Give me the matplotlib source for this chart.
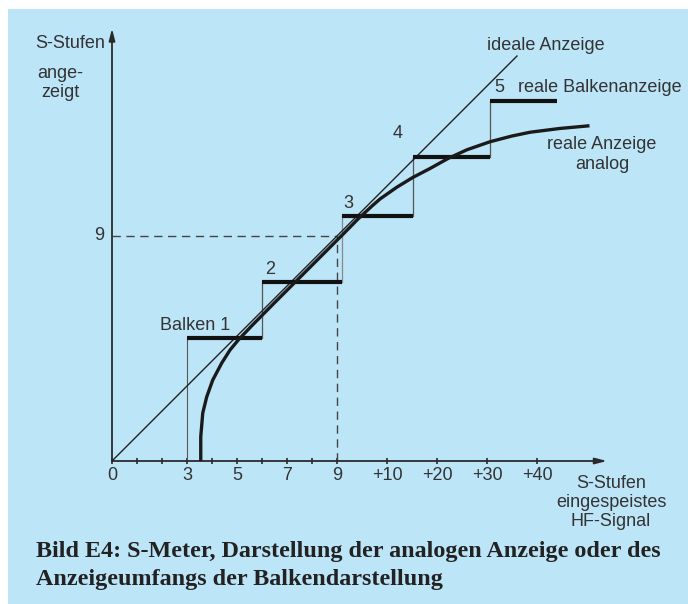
import matplotlib
matplotlib.use("Agg")
import matplotlib.pyplot as plt
from matplotlib.patches import Rectangle

# ---------------- data (S-units; above S9 one step = 10 dB = 2 units) -------------
x_tick_pos = [0, 1, 2, 3, 4, 5, 6, 7, 8, 9, 11, 13, 15, 17]
x_label_pos = [0, 3, 5, 7, 9, 11, 13, 15, 17]
x_labels = ["0", "3", "5", "7", "9", "+10", "+20", "+30", "+40"]

ideal_x = [0, 16.2]
ideal_y = [0, 16.2]

bar_left = [3, 6, 9.2, 12.03, 15.1]
bar_right = [6, 9.2, 12.03, 15.1, 17.8]
bar_level = [4.92, 7.16, 9.8, 12.16, 14.4]
bar_labels = ["Balken 1", "2", "3", "4", "5"]

analog_x = [3.55, 3.55, 3.63, 3.79, 4.03, 4.39, 4.72, 5.05, 5.6, 6.5, 7.5, 8.5,
            9.3, 9.84, 10.4, 10.72, 11.39, 12.03, 12.72, 13.44, 14.2, 15.12,
            16.0, 16.72, 17.9, 19.1]
analog_y = [0.0, 0.97, 1.92, 2.57, 3.24, 3.92, 4.44, 4.84, 5.42, 6.33, 7.33, 8.33,
            9.13, 9.68, 10.2, 10.48, 10.95, 11.34, 11.7, 12.1, 12.45, 12.77,
            13.0, 13.15, 13.3, 13.41]

ref_level = 9

# ---------------- figure ----------------
W, H = 688, 604
fig = plt.figure(figsize=(W / 100, H / 100), dpi=100)
fig.patch.set_facecolor("white")
bg = "#bde5f8"
fig.patches.append(Rectangle((8 / W, 0), 1 - 8 / W, (H - 9) / H,
                             transform=fig.transFigure, facecolor=bg,
                             edgecolor="none", zorder=-5))

ax = fig.add_axes([0, 0, 1, 1])
ax.set_zorder(2)
ax.set_facecolor("none")
ox, oy, s = 112, 461, 25.0
ax.set_xlim(-ox / s, (W - ox) / s)
ax.set_ylim(-(H - oy) / s, oy / s)
ax.axis("off")

axc = "#2a2a2a"
txtc = "#333333"
fs = 13
fam = ["Liberation Sans", "DejaVu Sans"]

# axes with arrows
ax.annotate("", xy=(19.8, 0), xytext=(0, 0),
            arrowprops=dict(arrowstyle="-|>,head_length=0.7,head_width=0.18",
                            color=axc, lw=1.3, shrinkA=0, shrinkB=0))
ax.annotate("", xy=(0, 17.3), xytext=(0, 0),
            arrowprops=dict(arrowstyle="-|>,head_length=0.7,head_width=0.18",
                            color=axc, lw=1.3, shrinkA=0, shrinkB=0))

# ticks
for xt in x_tick_pos:
    ax.plot([xt, xt], [-0.12, 0.12], color=axc, lw=1.2, solid_capstyle="butt")
for xp, lab in zip(x_label_pos, x_labels):
    ax.text(xp, -0.25, lab, ha="center", va="top", fontsize=fs, color=txtc,
            family=fam)

# dashed reference lines at S9
ax.plot([0, ref_level], [ref_level, ref_level], color="#444444", lw=1.0,
        dashes=(6, 4))
ax.plot([ref_level, ref_level], [0, ref_level], color="#444444", lw=1.0,
        dashes=(6, 4))
ax.text(-0.3, ref_level, "9", ha="right", va="center", fontsize=fs,
        color=txtc, family=fam)

# ideal line
ax.plot(ideal_x, ideal_y, color="#222222", lw=1.0, zorder=3)

# bars with thin connectors
ax.plot([bar_left[0], bar_left[0]], [0, bar_level[0]], color="#555555", lw=0.8)
for i in range(len(bar_level) - 1):
    c = "#888888" if i == 1 else "#555555"
    ax.plot([bar_right[i], bar_right[i]], [bar_level[i], bar_level[i + 1]],
            color=c, lw=0.9)
for l, r, y in zip(bar_left, bar_right, bar_level):
    ax.plot([l, r], [y, y], color="#111111", lw=3.0, solid_capstyle="butt",
            zorder=4)

# analog curve
ax.plot(analog_x, analog_y, color="#1a1a1a", lw=2.4, zorder=5,
        solid_capstyle="butt", solid_joinstyle="round")

# bar labels
ax.text(3.32, 5.4, bar_labels[0], ha="center", va="center", fontsize=fs,
        color=txtc, family=fam)
ax.text(6.32, 7.64, bar_labels[1], ha="center", va="center", fontsize=fs,
        color=txtc, family=fam)
ax.text(9.44, 10.28, bar_labels[2], ha="center", va="center", fontsize=fs,
        color=txtc, family=fam)
ax.text(11.44, 13.12, bar_labels[3], ha="center", va="center", fontsize=fs,
        color=txtc, family=fam)
ax.text(15.48, 14.92, bar_labels[4], ha="center", va="center", fontsize=fs,
        color=txtc, family=fam)

# annotations
ax.text(17.36, 16.64, "ideale Anzeige", ha="center", va="center", fontsize=fs,
        color=txtc, family=fam)
ax.text(19.52, 14.92, "reale Balkenanzeige", ha="center", va="center",
        fontsize=fs, color=txtc, family=fam)
ax.text(19.6, 12.25, "reale Anzeige\nanalog", ha="center", va="center",
        fontsize=fs, color=txtc, family=fam, linespacing=1.2)
ax.text(-0.28, 16.68, "S-Stufen", ha="right", va="center", fontsize=fs,
        color=txtc, family=fam)
ax.text(-2.08, 15.12, "ange-\nzeigt", ha="center", va="center", fontsize=fs,
        color=txtc, family=fam, linespacing=1.2)
ax.text(19.96, -1.66, "S-Stufen\neingespeistes\nHF-Signal", ha="center",
        va="center", fontsize=fs, color=txtc, family=fam, linespacing=1.15)

# caption
cap_fam = ["Liberation Serif", "DejaVu Serif"]
fig.text(36 / W, 1 - 552 / H,
         "Bild E4: S-Meter, Darstellung der analogen Anzeige oder des",
         ha="left", va="center", fontsize=17.4, fontweight="bold",
         color="#222222", family=cap_fam)
fig.text(36 / W, 1 - 579 / H, "Anzeigeumfangs der Balkendarstellung",
         ha="left", va="center", fontsize=17.4, fontweight="bold",
         color="#222222", family=cap_fam)

fig.savefig("out.png", dpi=100, facecolor=fig.get_facecolor())
